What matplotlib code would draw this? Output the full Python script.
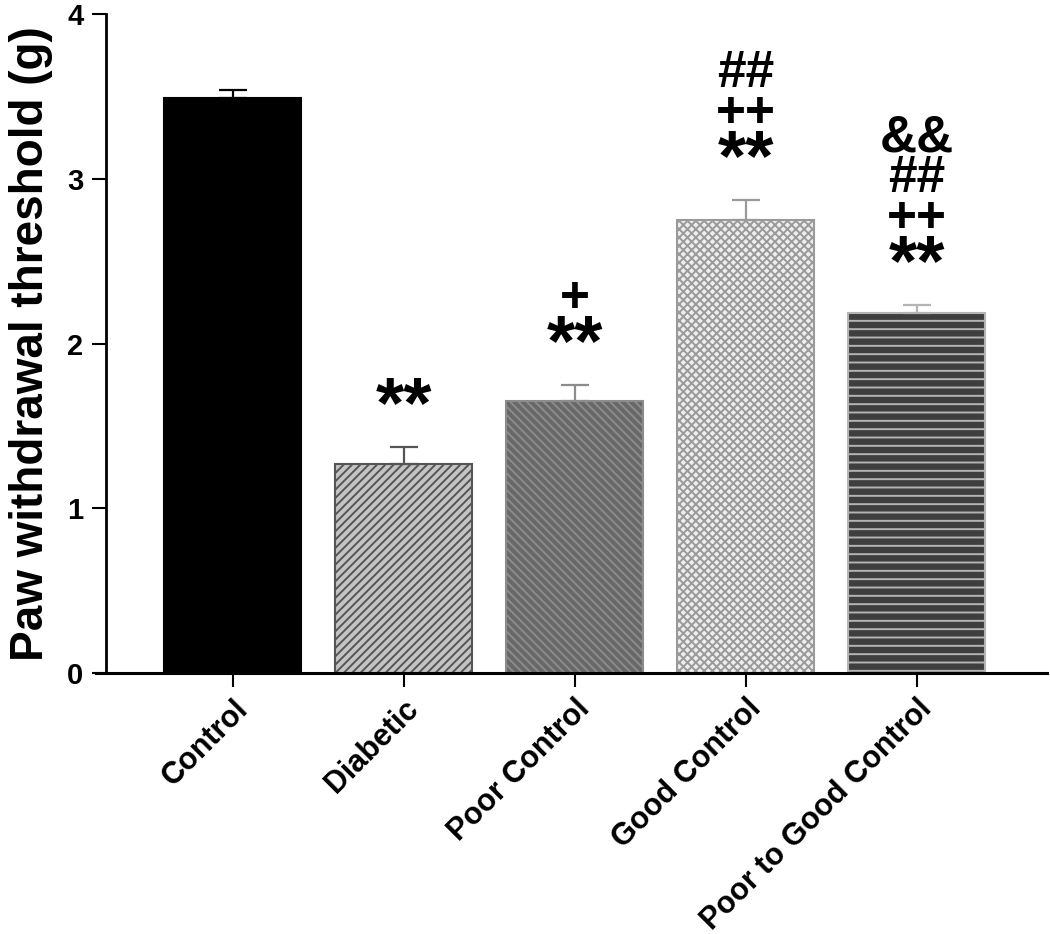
import matplotlib
matplotlib.use("Agg")
import matplotlib.pyplot as plt
import numpy as np

plt.rcParams['font.family'] = ['Liberation Sans', 'DejaVu Sans']
plt.rcParams['font.weight'] = 'bold'
plt.rcParams['hatch.linewidth'] = 1.4

groups = ["Control", "Diabetic", "Poor Control", "Good Control", "Poor to Good Control"]
means = [3.49, 1.27, 1.65, 2.75, 2.185]
sems = [0.05, 0.10, 0.10, 0.12, 0.05]
# significance marks, bottom line first
marks = [[], ["**"], ["**", "+"], ["**", "++", "##"], ["**", "++", "##", "&&"]]

fills = ['#000000', '#c4c4c4', '#686868', '#eeeeee', '#3e3e3e']
edges = ['#000000', '#555555', '#8c8c8c', '#9a9a9a', '#b4b4b4']
hatches = [None, '////', '\\\\\\\\', 'xxxx', '--']

fig = plt.figure(figsize=(10.5, 9.34), dpi=100)
ax = fig.add_axes([0.0914, 0.2794, 0.9056, 0.7056])

x = np.arange(len(groups))
for i in x:
    ax.bar(i, means[i], width=0.8, color=fills[i], edgecolor=edges[i],
           hatch=hatches[i], linewidth=1.5, zorder=2)
    ax.errorbar(i, means[i], yerr=[[0], [sems[i]]], color=edges[i] if i else 'k',
                elinewidth=1.6, capsize=10, capthick=1.6, zorder=3)

# significance symbols above each error bar: big asterisks, then the rest stacked
for i in x:
    if not marks[i]:
        continue
    top = means[i] + sems[i]
    ax.annotate(marks[i][0], (i, top), xytext=(0, 42 - 0.53 * 52),
                textcoords='offset points', ha='center', va='baseline',
                fontsize=52, fontweight='bold')
    rest = marks[i][1:]
    if rest:
        ax.annotate("\n".join(rest[::-1]), (i, top),
                    xytext=(0, 42 + 24 - 0.36 * 37), textcoords='offset points',
                    ha='center', va='baseline', fontsize=37, fontweight='bold',
                    linespacing=0.76, multialignment='center')

ax.set_xlim(-0.80, 4.76)
ax.set_ylim(0, 4)
ax.set_yticks([0, 1, 2, 3, 4])
ax.set_xticks(x)
ax.set_xticklabels(groups, rotation=45, ha='right', rotation_mode='anchor',
                   fontsize=22, fontweight='bold')
ax.tick_params(axis='y', labelsize=21, length=10, width=1.5, pad=6)
ax.tick_params(axis='x', length=10, width=1.5, pad=5)
for t in ax.get_yticklabels():
    t.set_fontweight('bold')
ax.set_ylabel("Paw withdrawal threshold (g)", fontsize=33, fontweight='bold', labelpad=10)

ax.spines['top'].set_visible(False)
ax.spines['right'].set_visible(False)
ax.spines['left'].set_position(('data', -0.743))
ax.spines['left'].set_linewidth(2)
ax.spines['bottom'].set_linewidth(2.2)

fig.savefig("out.png", dpi=100)
